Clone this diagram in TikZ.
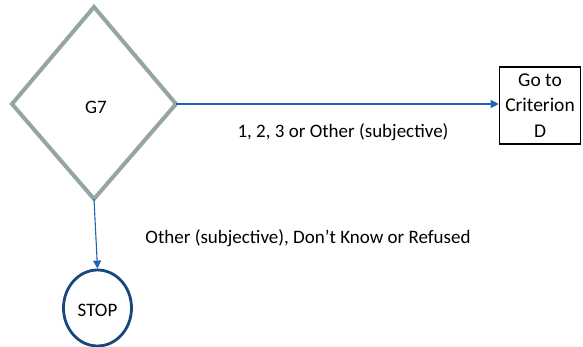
\documentclass[tikz,border=0pt]{standalone}
\usepackage{fontspec}
\setmainfont{Carlito}
\usetikzlibrary{arrows.meta,shapes.geometric}
\definecolor{dgray}{RGB}{149,165,166}
\definecolor{arrowblue}{RGB}{30,100,180}
\definecolor{stopblue}{RGB}{25,70,125}
\tikzset{
  conn/.style={draw=arrowblue, line width=1.1pt, -{Triangle[length=8pt,width=8pt]}},
  lbl/.style={font=\fontsize{19}{23}\selectfont, inner sep=0pt}
}
\begin{document}
\begin{tikzpicture}[x=1pt,y=1pt]
\useasboundingbox (0,0) rectangle (583,347);
\coordinate (dl) at (12,243);
\coordinate (dt) at (94,340);
\coordinate (dr) at (176,243);
\coordinate (db) at (94,148);
\draw[dgray, line width=4pt, line join=miter] (dl) -- (dt) -- (dr) -- (db) -- cycle;
\node[lbl] (g7) at (96,240) {G7};
\node[draw=black, line width=1.6pt, minimum width=81pt, minimum height=77pt, align=center, inner sep=0pt, font=\fontsize{19.5}{25.5}\selectfont] (box) at (540,241.5) {Go to\\Criterion\\D};
\node[ellipse, draw=stopblue, line width=2.8pt, minimum width=68pt, minimum height=76pt, inner sep=0pt] (stop) at (97.5,39) {};
\node[lbl] (stoplbl) at (97.5,36.5) {STOP};
\draw[conn] (dr) -- (dr -| box.west);
\draw[conn] (db) -- (stop.north);
\node[lbl] (l1) at (343,215) {1, 2, 3 or Other (subjective)};
\node[lbl] (l2) at (308,109) {Other (subjective), Don\char39 t Know or Refused};
\end{tikzpicture}
\end{document}
